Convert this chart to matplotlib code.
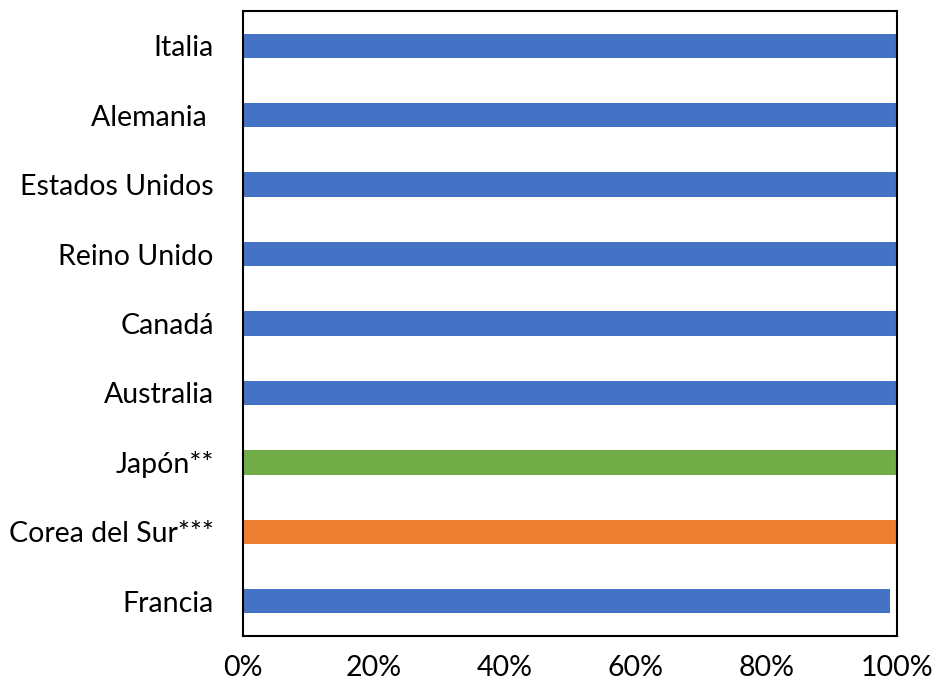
import matplotlib
matplotlib.use("Agg")
import matplotlib.pyplot as plt
from matplotlib.ticker import PercentFormatter

categories = ["Francia", "Corea del Sur***", "Japón**", "Australia", "Canadá",
              "Reino Unido", "Estados Unidos", "Alemania ", "Italia"]
values = [0.99, 1.0, 1.0, 1.0, 1.0, 1.0, 1.0, 1.0, 1.0]
colors = ["#4472C4", "#ED7D31", "#70AD47", "#4472C4", "#4472C4",
          "#4472C4", "#4472C4", "#4472C4", "#4472C4"]
xticks = [0, 0.2, 0.4, 0.6, 0.8, 1.0]

plt.rcParams['font.family'] = ['Lato', 'DejaVu Sans']
fig = plt.figure(figsize=(9.38, 6.91), dpi=100)
ax = fig.add_axes([243/938, 1-636/691, (897-243)/938, (636-11)/691])
y = range(len(categories))
ax.barh(y, values, height=0.35, color=colors)
ax.set_xlim(0, 1)
ax.set_ylim(-0.5, 8.5)
ax.set_yticks(list(y))
ax.set_yticklabels(categories, fontsize=20.5)
ax.set_xticks(xticks)
ax.xaxis.set_major_formatter(PercentFormatter(1.0, decimals=0))
ax.tick_params(axis='x', labelsize=20.5, length=0, pad=14)
ax.tick_params(axis='y', length=0, pad=21)
for s in ax.spines.values():
    s.set_linewidth(1.5)
    s.set_color("black")
fig.savefig("out.png", dpi=100)
